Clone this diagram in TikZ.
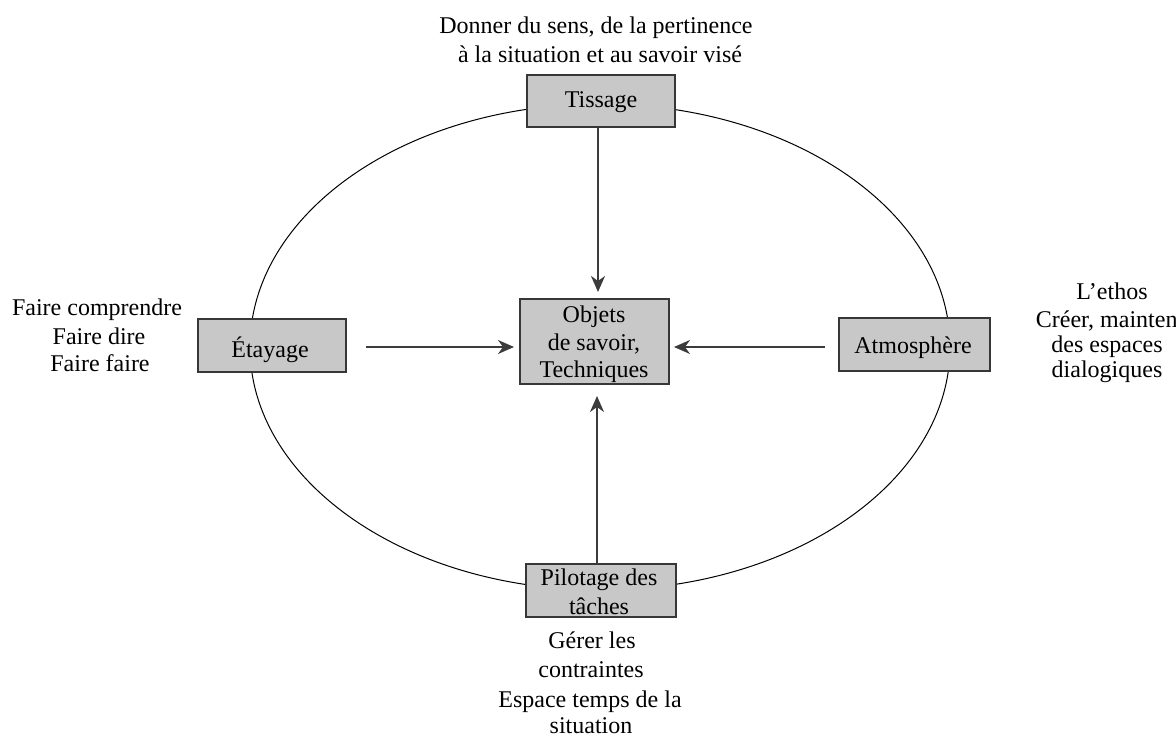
\documentclass[tikz,border=0pt]{standalone}
\usepackage{fontspec}
\setmainfont{Liberation Serif}
\usetikzlibrary{arrows.meta,calc}
\definecolor{boxgray}{RGB}{200,200,200}
\definecolor{edgegray}{RGB}{55,55,55}
\definecolor{linegray}{RGB}{60,60,60}
\tikzset{
  every node/.style={font=\fontsize{24}{28}\selectfont, text=black},
  boxnode/.style={draw=edgegray, line width=2pt, fill=boxgray, inner sep=0pt},
  txt/.style={anchor=base, inner sep=0pt},
  arr/.style={draw=linegray, line width=1.6pt, -{Stealth[length=16pt,width=14pt,inset=5pt]}},
  orbit/.style={draw=black, line width=1pt}
}
\begin{document}
\begin{tikzpicture}[x=1pt,y=-1pt]
\useasboundingbox (0,0) rectangle (1176,738);
% ellipse
\coordinate (ec) at (600,347);
\draw[orbit] (ec) ellipse [x radius=350, y radius=243];
% boxes
\node[boxnode, minimum width=148, minimum height=52] (tis) at (601,101) {};
\node[boxnode, minimum width=148, minimum height=53] (eta) at (272,345.5) {};
\node[boxnode, minimum width=149, minimum height=85] (obj) at (594.5,341.5) {};
\node[boxnode, minimum width=151, minimum height=53] (atm) at (914.5,344.5) {};
\node[boxnode, minimum width=150, minimum height=53] (pil) at (601,590.5) {};
% box texts
\node[txt] (tisT) at (601,108) {Tissage};
\node[txt] (etaT) at (270,357) {Étayage};
\node[txt] (obj1) at (594,322) {Objets};
\node[txt] (obj2) at (594,350) {de savoir,};
\node[txt] (obj3) at (594,377) {Techniques};
\node[txt] (atmT) at (913,353) {Atmosphère};
\node[txt] (pil1) at (599,585) {Pilotage des};
\node[txt] (pil2) at (599,614) {tâches};
% arrows
\coordinate (tisOut) at ($(tis.south)+(-3,0)$);
\coordinate (tisIn) at ($(obj.north)+(3.5,-6)$);
\draw[arr] (tisOut) -- (tisOut |- tisIn);
\coordinate (pilOut) at ($(pil.north)+(-4,0)$);
\coordinate (pilIn) at ($(obj.south)+(2.5,11)$);
\draw[arr] (pilOut) -- (pilOut |- pilIn);
\coordinate (etaOut) at ($(eta.east)+(19,1.5)$);
\coordinate (etaIn) at ($(obj.west)+(-5,0)$);
\draw[arr] (etaOut) -- (etaOut -| etaIn);
\coordinate (atmOut) at ($(atm.west)+(-13,2.5)$);
\coordinate (atmIn) at ($(obj.east)+(4,0)$);
\draw[arr] (atmOut) -- (atmOut -| atmIn);
% outer texts
\node[txt] (top1) at (596,34) {Donner du sens, de la pertinence};
\node[txt] (top2) at (600,63) {à la situation et au savoir visé};
\node[txt] (lft1) at (97,316) {Faire comprendre};
\node[txt] (lft2) at (99,344) {Faire dire};
\node[txt] (lft3) at (100,371) {Faire faire};
\node[txt] (rgt1) at (1112,300) {L’ethos};
\node[txt] (rgt2) at (1114,327) {Créer, maintenir};
\node[txt] (rgt3) at (1107,352) {des espaces};
\node[txt] (rgt4) at (1107,377) {dialogiques};
\node[txt] (bot1) at (592,648) {Gérer les};
\node[txt] (bot2) at (591,677) {contraintes};
\node[txt] (bot3) at (590,707) {Espace temps de la};
\node[txt] (bot4) at (591,733) {situation};
\end{tikzpicture}
\end{document}
